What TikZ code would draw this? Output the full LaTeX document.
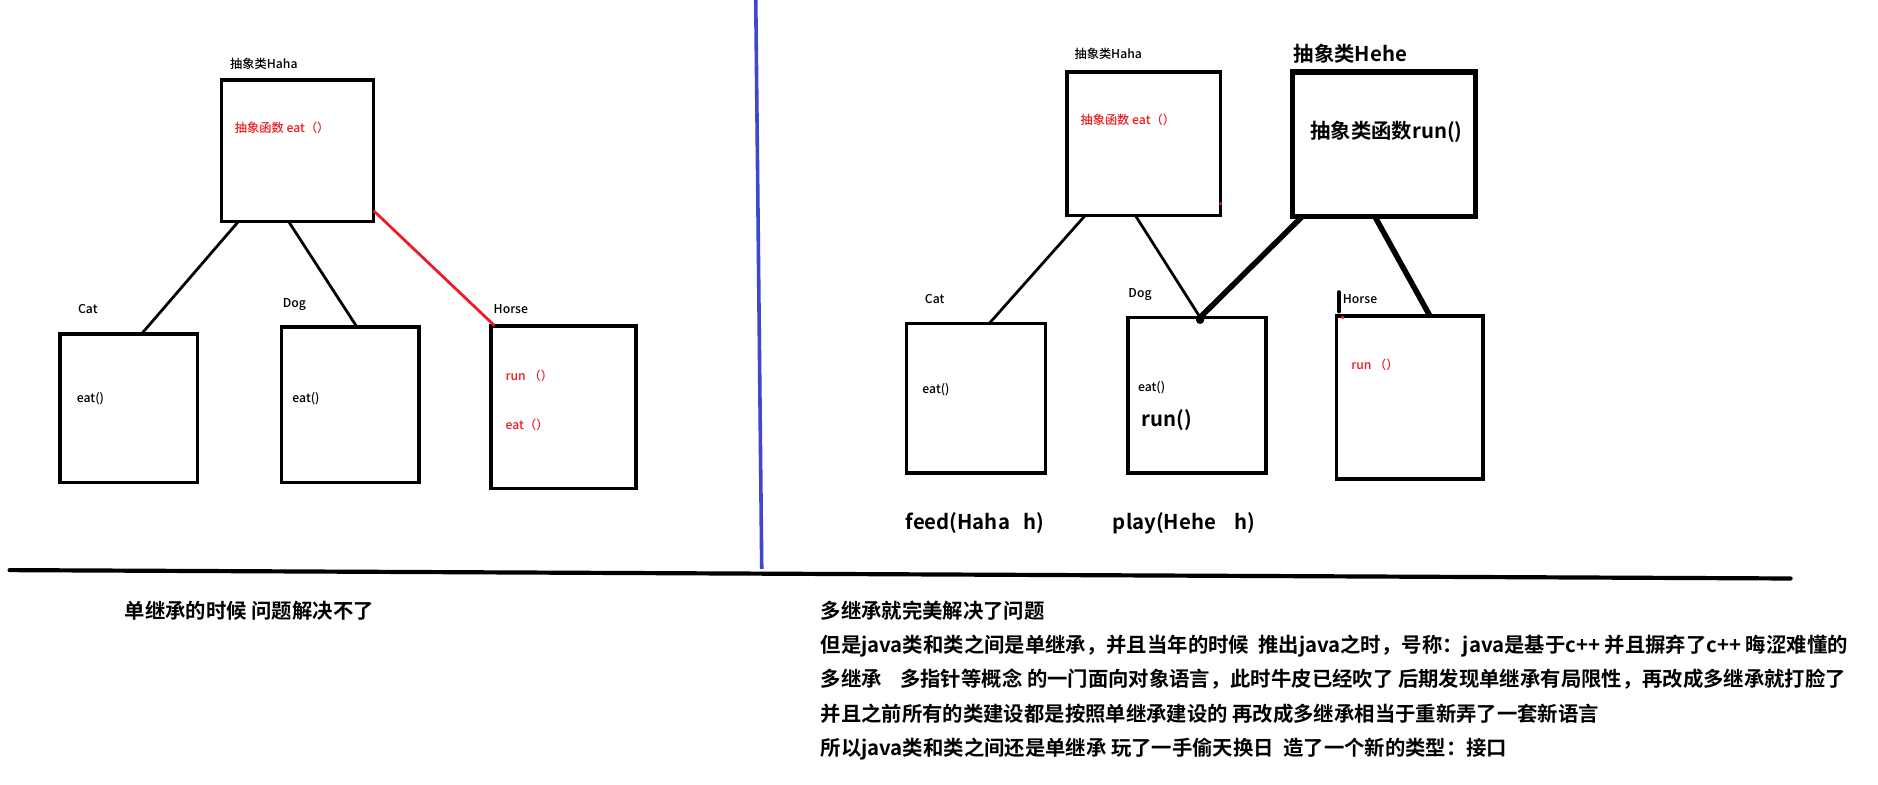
\documentclass[tikz,border=0pt]{standalone}
\usepackage{fontspec}
\setmainfont{Noto Sans CJK SC}[BoldFont={Noto Sans CJK SC Bold}]
\newfontfamily\medfont{Noto Sans CJK SC Medium}
\usetikzlibrary{calc}
\definecolor{paintred}{RGB}{237,28,36}
\definecolor{paintblue}{RGB}{63,72,204}

\begin{document}
\begin{tikzpicture}[x=1pt, y=-1pt,
    box/.style n args={2}{draw, line width=3pt, anchor=north west, inner sep=0pt,
        outer sep=0pt, minimum width=#1, minimum height=#2},
    lbl/.style={anchor=west, inner sep=0pt, font=\medfont\fontsize{10.2}{12}\selectfont},
    redlbl/.style={lbl, text=paintred},
    biglbl/.style={anchor=west, inner sep=0pt, font=\fontsize{17}{20}\selectfont\bfseries},
    link/.style={line width=2.3pt},
    thicklink/.style={line width=4.6pt}]
    \useasboundingbox (0,0) rectangle (1568,655);
    \fill[white] (0,0) rectangle (1568,655);

    % Left: single inheritance
    \node[box={127}{118}] (lhaha) at (185,67) {};
    \node[lbl] (lhahat) at (192,53) {抽象类Haha};
    \node[redlbl] (lhahaf) at (196,107) {抽象函数 eat（）};

    \node[box={115}{124}] (lcat) at (50,279) {};
    \node[lbl] (lcatt) at (65,258) {Cat};
    \node[lbl] (lcatf) at (64,333) {eat()};

    \node[box={115}{130}] (ldog) at (235,273) {};
    \node[lbl] (ldogt) at (236,254) {Dog};
    \node[lbl] (ldogf) at (244,333) {eat()};

    \node[box={121}{136}] (lhorse) at (410,272) {};
    \node[lbl] (lhorset) at (412,258) {Horse};
    \node[redlbl] (lhorsef) at (422,314) {run （）};
    \node[redlbl] (lhorseg) at (422,355) {eat（）};

    \draw[link] ($(lhaha.south west)+(14,0)$) -- ($(lcat.north west)+(68,0)$);
    \draw[link] ($(lhaha.south west)+(56,0)$) -- ($(ldog.north west)+(63,0)$);
    \draw[link, paintred] ($(lhaha.south east)+(0,-9)$) -- ($(lhorse.north west)+(3,0)$);

    % Right: multiple inheritance
    \node[box={128}{120}] (rhaha) at (891,60) {};
    \node[lbl] (rhahat) at (897,45) {抽象类Haha};
    \node[redlbl] (rhahaf) at (902,100) {抽象函数 eat（）};

    \node[box={153}{121}, line width=4.5pt] (hehe) at (1079,60) {};
    \node[biglbl] (hehet) at (1080,45) {抽象类Hehe};
    \node[biglbl] (hehef) at (1094,110) {抽象类函数run()};

    \node[box={116}{125}] (rcat) at (757,270) {};
    \node[lbl] (rcatt) at (772,250) {Cat};
    \node[lbl] (rcatf) at (770,325) {eat()};

    \node[box={115}{130}] (rdog) at (942,265) {};
    \node[lbl] (rdogt) at (942,246) {Dog};
    \node[lbl] (rdogf) at (950,324) {eat()};
    \node[biglbl] (rdogg) at (953,351) {run()};

    \node[box={122}{136}] (rhorse) at (1116,264) {};
    \node[lbl] (rhorset) at (1121,250) {Horse};
    \node[redlbl] (rhorsef) at (1128,305) {run （）};

    \draw[link] ($(rhaha.south west)+(15,0)$) -- ($(rcat.north west)+(69,0)$);
    \draw[link] ($(rhaha.south west)+(57,0)$) -- ($(rdog.north west)+(60,0)$);
    \draw[thicklink] ($(hehe.south west)+(8,0)$) -- ($(rdog.north west)+(60,0)$);
    \draw[thicklink] ($(hehe.south west)+(69,0)$) -- ($(rhorse.north west)+(78,0)$);
    \fill ($(rdog.north west)+(60,2)$) circle (3.5);

    % marks
    \draw[line width=3.5pt, line cap=round] (1118,244) -- (1118,260);
    \fill[paintred] (1019,170) circle (1.5);
    \fill[paintred] (1121,265) circle (1.5);

    \node[biglbl] (feed) at (756,437) {feed(Haha\ \ \ h)};
    \node[biglbl] (play) at (929,437) {play(Hehe\ \ \ \ h)};

    % Dividers
    \draw[paintblue, line width=3pt] (631,0) -- (636,475);
    \draw[line width=3.5pt, line cap=round] (8,476) -- (1495,483);

    % Captions
    \node[biglbl] (lcap) at (104,510) {单继承的时候 问题解决不了};
    \node[biglbl] (rcap1) at (685,510) {多继承就完美解决了问题};
    \node[biglbl] (rcap2) at (685,539) {但是java类和类之间是单继承，并且当年的时候\ \ 推出java之时，号称：java是基于c++ 并且摒弃了c++ 晦涩难懂的};
    \node[biglbl] (rcap3) at (685,567) {多继承\ \ \ \ 多指针等概念 的一门面向对象语言，此时牛皮已经吹了 后期发现单继承有局限性，再改成多继承就打脸了};
    \node[biglbl] (rcap4) at (685,596) {并且之前所有的类建设都是按照单继承建设的 再改成多继承相当于重新弄了一套新语言};
    \node[biglbl] (rcap5) at (685,625) {所以java类和类之间还是单继承 玩了一手偷天换日\ \ 造了一个新的类型：接口};
\end{tikzpicture}
\end{document}
